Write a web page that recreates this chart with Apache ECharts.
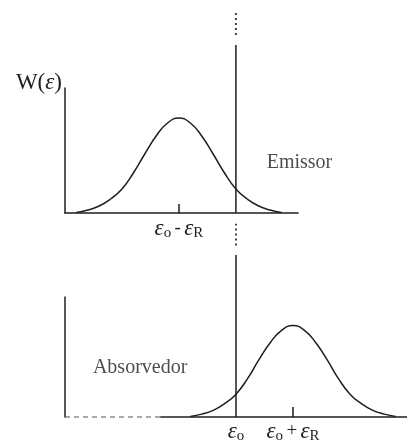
<!DOCTYPE html>
<html>
<head>
<meta charset="utf-8">
<script src="https://cdn.jsdelivr.net/npm/echarts@6/dist/echarts.min.js"></script>
<style>
  html, body { margin: 0; padding: 0; background: #fff; }
  #chart { width: 407px; height: 444px; }
</style>
</head>
<body>
<div id="chart"></div>
<script>
// Energy axis: ε₀ at 0, recoil energy ε_R = 1 unit
const emitterEnergy = [-2.8, -2.6, -2.4, -2.2, -2.0, -1.8, -1.6, -1.4, -1.2, -1.0,
                       -0.8, -0.6, -0.4, -0.2, 0.0, 0.2, 0.4, 0.6, 0.8];
const emitterW      = [0.005, 0.03, 0.07, 0.14, 0.24, 0.40, 0.59, 0.77, 0.90, 0.95,
                       0.90, 0.77, 0.59, 0.40, 0.24, 0.14, 0.07, 0.03, 0.005];

const absorberEnergy = [-0.8, -0.6, -0.4, -0.2, 0.0, 0.2, 0.4, 0.6, 0.8, 1.0,
                        1.2, 1.4, 1.6, 1.8, 2.0, 2.2, 2.4, 2.6, 2.8];
const absorberW      = [0.005, 0.03, 0.07, 0.14, 0.24, 0.40, 0.60, 0.78, 0.91, 0.96,
                        0.91, 0.78, 0.60, 0.40, 0.24, 0.14, 0.07, 0.03, 0.005];

// Line at ε₀ crossing both panels (solid parts and dotted breaks)
const e0 = 0;
const topLineSolid = [0, 1.68];
const topLineDotted = [1.78, 2.0];
const bottomLineSolid = [0, 1.70];
const bottomLineDotted = [1.80, 2.03];

// Absorber baseline: dashed part, then solid
const baselineDashed = [-3, -1.33];
const baselineSolid = [-1.33, 3];

const topTickValues = [-1];
const topTickLabels = ['{e|ε}{s|o} {m|-} {e|ε}{s|R}'];
const bottomTickValues = [1];
const bottomLabelValues = [0, 1];
const bottomLabels = ['{e|ε}{s|o}', '{e|ε}{s|o} {m|+} {e|ε}{s|R}'];

const yTitle = '{n|W(}{e|ε}{n|)}';
const emitterText = 'Emissor';
const absorberText = 'Absorvedor';
const emitterTextPos = [0.54, 0.5];
const absorberTextPos = [-2.51, 0.52];

const INK = '#1e1e1e';
const SERIF = '"Liberation Serif", "DejaVu Serif", serif';

const labelRich = {
  e: { fontFamily: SERIF, fontStyle: 'italic', fontSize: 23, color: INK },
  s: { fontFamily: SERIF, fontSize: 15, color: INK, padding: [10, 0, 0, 0] },
  m: { fontFamily: SERIF, fontSize: 19, color: INK }
};

function pairs(xs, ys) { return xs.map((x, i) => [x, ys[i]]); }
function vline(x, seg) { return [[x, seg[0]], [x, seg[1]]]; }
function hline(seg) { return [[seg[0], 0], [seg[1], 0]]; }

function lineSeries(data, xi, style, smooth) {
  return {
    type: 'line', xAxisIndex: xi, yAxisIndex: xi, data: data,
    symbol: 'none', clip: false, silent: true, animation: false, smooth: !!smooth,
    lineStyle: Object.assign({ color: INK, width: 1.5 }, style || {})
  };
}

function textSeries(pos, text, xi) {
  return {
    type: 'scatter', xAxisIndex: xi, yAxisIndex: xi, data: [pos],
    symbolSize: 0, silent: true, animation: false,
    label: {
      show: true, position: 'right', distance: 0, formatter: text,
      fontFamily: SERIF, fontSize: 20, color: INK
    }
  };
}

const chart = echarts.init(document.getElementById('chart'), null, { renderer: 'canvas' });

chart.setOption({
  backgroundColor: '#ffffff',
  animation: false,
  grid: [
    { left: 65, top: 88, width: 233, height: 125 },
    { left: 65, top: 297, width: 342, height: 126 }
  ],
  xAxis: [
    {
      gridIndex: 0, type: 'value', min: -3, max: 1.09,
      splitLine: { show: false },
      axisLine: { show: true, onZero: false, lineStyle: { color: INK, width: 1.5 } },
      axisTick: { show: true, inside: true, length: 9, customValues: topTickValues,
                  lineStyle: { color: INK, width: 1.5 } },
      axisLabel: {
        show: true, margin: 3, customValues: topTickValues,
        formatter: (v) => topTickLabels[topTickValues.indexOf(v)] || '',
        rich: labelRich
      }
    },
    {
      gridIndex: 1, type: 'value', min: -3, max: 3,
      splitLine: { show: false },
      axisLine: { show: false },
      axisTick: { show: true, inside: true, length: 10, customValues: bottomTickValues,
                  lineStyle: { color: INK, width: 1.5 } },
      axisLabel: {
        show: true, margin: 2, customValues: bottomLabelValues,
        formatter: (v) => bottomLabels[bottomLabelValues.indexOf(v)] || '',
        rich: labelRich
      }
    }
  ],
  yAxis: [
    {
      gridIndex: 0, type: 'value', min: 0, max: 1.25,
      splitLine: { show: false }, axisTick: { show: false }, axisLabel: { show: false },
      axisLine: { show: true, onZero: false, lineStyle: { color: INK, width: 1.5 } },
      name: yTitle, nameLocation: 'end', nameGap: 5,
      nameTextStyle: {
        align: 'right', verticalAlign: 'middle', padding: [0, 3, 0, 0],
        rich: {
          n: { fontFamily: SERIF, fontSize: 23, color: INK },
          e: { fontFamily: SERIF, fontStyle: 'italic', fontSize: 23, color: INK }
        }
      }
    },
    {
      gridIndex: 1, type: 'value', min: 0, max: 1.26,
      splitLine: { show: false }, axisTick: { show: false }, axisLabel: { show: false },
      axisLine: { show: true, onZero: false, lineStyle: { color: INK, width: 1.5 } }
    }
  ],
  series: [
    lineSeries(pairs(emitterEnergy, emitterW), 0, {}, true),
    lineSeries(vline(e0, topLineSolid), 0, {}),
    lineSeries(vline(e0, topLineDotted), 0, { type: [2, 3], color: '#444', width: 2 }),
    lineSeries(pairs(absorberEnergy, absorberW), 1, {}, true),
    lineSeries(vline(e0, bottomLineSolid), 1, {}),
    lineSeries(vline(e0, bottomLineDotted), 1, { type: [2, 3], color: '#444', width: 2 }),
    lineSeries(hline(baselineDashed), 1, { type: [5, 4], color: '#555', width: 1.2 }),
    lineSeries(hline(baselineSolid), 1, {}),
    textSeries(emitterTextPos, emitterText, 0),
    textSeries(absorberTextPos, absorberText, 1)
  ]
});
</script>
</body>
</html>
